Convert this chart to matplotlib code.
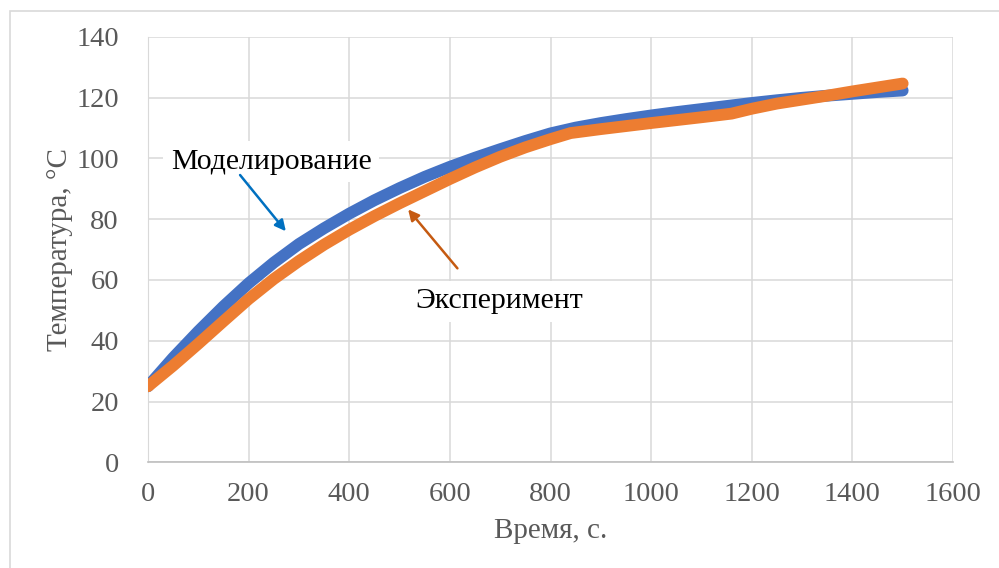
import matplotlib.pyplot as plt
from matplotlib.patches import Rectangle

plt.rcParams['font.family'] = ['Liberation Serif', 'DejaVu Serif']

# Моделирование
t_model = [0, 50, 100, 150, 200, 250, 300, 350, 400, 450, 500, 550, 600, 650,
           700, 750, 800, 850, 900, 950, 1000, 1050, 1100, 1150, 1200, 1250,
           1300, 1350, 1400, 1450, 1500]
T_model = [25, 34.4, 43.1, 51.3, 58.9, 65.7, 71.8, 77.0, 81.8, 86.2, 90.2, 93.9,
           97.2, 100.2, 103.0, 105.7, 108.2, 110.1, 111.6, 112.9, 114.1, 115.2,
           116.2, 117.2, 118.2, 119.1, 119.9, 120.6, 121.2, 121.8, 122.3]

# Эксперимент
t_exp = [0, 50, 100, 150, 200, 250, 300, 350, 400, 450, 500, 550, 600, 650,
         700, 750, 800, 840, 900, 1000, 1100, 1160, 1200, 1250, 1300, 1350,
         1400, 1450, 1500]
T_exp = [25, 31.8, 39.0, 46.4, 53.7, 60.3, 66.2, 71.6, 76.5, 81.0, 85.2, 89.2,
         93.2, 97.0, 100.5, 103.6, 106.3, 108.3, 109.6, 111.6, 113.5, 114.7,
         116.3, 118.0, 119.3, 120.6, 122.0, 123.3, 124.6]

xticks = list(range(0, 1601, 200))
yticks = list(range(0, 141, 20))

fig = plt.figure(figsize=(9.99, 5.68), dpi=100)
# рамка области диаграммы
fig.patches.append(Rectangle((10 / 999, -0.05), 1.2, (568 - 11) / 568 + 0.05,
                             transform=fig.transFigure, fill=False,
                             edgecolor='#d9d9d9', lw=1.2))

ax = fig.add_axes([148 / 999, (568 - 462.3) / 568, 805 / 999, 425.6 / 568])

ax.plot(t_model, T_model, color='#4472C4', lw=8.5, solid_capstyle='round',
        solid_joinstyle='round', zorder=3)
ax.plot(t_exp, T_exp, color='#ED7D31', lw=8.5, solid_capstyle='round',
        solid_joinstyle='round', zorder=4)

ax.set_xlim(0, 1600)
ax.set_ylim(0, 140)
ax.set_xticks(xticks)
ax.set_yticks(yticks)
ax.grid(True, color='#d9d9d9', lw=1.1)
ax.set_axisbelow(True)
for s in ['top', 'right']:
    ax.spines[s].set_visible(False)
ax.spines['left'].set_color('#d9d9d9')
ax.spines['bottom'].set_color('#bfbfbf')
ax.spines['bottom'].set_linewidth(1.2)
ax.tick_params(axis='both', length=0, labelsize=20.5, colors='#595959')
ax.tick_params(axis='x', pad=14)
ax.tick_params(axis='y', pad=21)

ax.set_xlabel('Время, с.', fontsize=21, color='#595959', labelpad=8)
ax.set_ylabel('Температура, °С', fontsize=21, color='#595959', labelpad=2)

box = dict(boxstyle='square,pad=0.25', fc='white', ec='none')
ax.text(245, 98.8, 'Моделирование', fontsize=21.5, ha='center', va='center',
        bbox=box, zorder=5)
ax.text(698, 53, 'Эксперимент', fontsize=21.5, ha='center', va='center',
        bbox=box, zorder=5)

ax.annotate('', xy=(274, 76), xytext=(183, 94.5),
            arrowprops=dict(arrowstyle='-|>', color='#0070C0', lw=1.8,
                            mutation_scale=16, shrinkA=0, shrinkB=0), zorder=6)
ax.annotate('', xy=(517, 83.2), xytext=(615, 63.8),
            arrowprops=dict(arrowstyle='-|>', color='#C55A11', lw=1.8,
                            mutation_scale=16, shrinkA=0, shrinkB=0), zorder=6)

fig.savefig('out.png', dpi=100)
